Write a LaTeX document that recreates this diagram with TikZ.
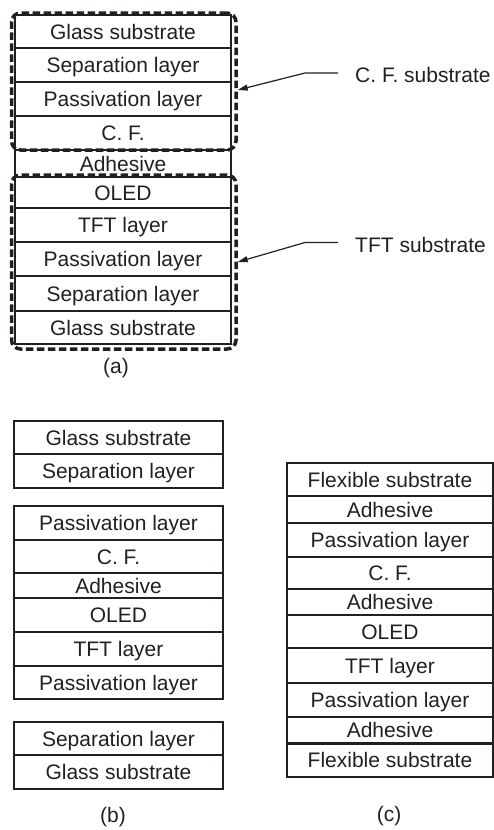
\documentclass[tikz,border=0pt]{standalone}
\usepackage{fontspec}
\setmainfont{Liberation Sans}
\usetikzlibrary{arrows.meta}
\definecolor{ink}{RGB}{35,31,32}
\begin{document}
\begin{tikzpicture}[x=1pt,y=-1pt,
  layer/.style={draw=ink,line width=1.2pt,inner sep=0pt,text=ink,
    text height=15pt,text depth=0pt,font=\fontsize{21}{25}\selectfont},
  colA/.style={layer,minimum width=216pt},
  colB/.style={layer,minimum width=209pt},
  colC/.style={layer,minimum width=206pt},
  groupbox/.style={draw=ink,line width=3.5pt,dash pattern=on 7.5pt off 3.5pt,
    rounded corners=9pt,inner sep=0pt},
  lbl/.style={inner sep=0pt,text=ink,text height=15pt,text depth=0pt,
    font=\fontsize{21}{25}\selectfont},
  pointer/.style={draw=ink,line width=1.2pt,-{Triangle[length=10pt,width=6pt]}}]
\useasboundingbox (0,0) rectangle (494,830);
% ---------- (a)
\node[colA,minimum height=33pt] (a1) at (123,31.5) {Glass substrate};
\node[colA,minimum height=34pt] (a2) at (123,65) {Separation layer};
\node[colA,minimum height=34pt] (a3) at (123,99) {Passivation layer};
\node[colA,minimum height=34pt] (a4) at (123,133) {C. F.};
\node[colA,minimum height=27pt] (a5) at (123,163.5) {Adhesive};
\node[colA,minimum height=31pt] (a6) at (123,192.5) {OLED};
\node[colA,minimum height=34pt] (a7) at (123,225) {TFT layer};
\node[colA,minimum height=34pt] (a8) at (123,259) {Passivation layer};
\node[colA,minimum height=35pt] (a9) at (123,293.5) {Separation layer};
\node[colA,minimum height=33pt] (a10) at (123,327.5) {Glass substrate};
\node[groupbox,minimum width=224.5pt,minimum height=137pt] (cfg) at (123.75,81.5) {};
\node[groupbox,minimum width=224.5pt,minimum height=174pt] (tftg) at (123.75,262) {};
\node[lbl,anchor=west] (cfl) at (355,75) {C. F. substrate};
\node[lbl,anchor=west] (tftl) at (355,244.5) {TFT substrate};
\draw[pointer] ([xshift=-17pt,yshift=2pt]cfl.west) -- ++(-33,0) -- ([yshift=-8.5pt]cfg.east);
\draw[pointer] ([xshift=-17pt,yshift=2pt]tftl.west) -- ++(-33,0) -- ([yshift=0pt]tftg.east);
\node[lbl] (capa) at (116,365.5) {(a)};
% ---------- (b)
\node[colB,minimum height=33pt] (b1) at (118.5,437.5) {Glass substrate};
\node[colB,minimum height=34pt] (b2) at (118.5,471) {Separation layer};
\node[colB,minimum height=34pt] (b3) at (118.5,523) {Passivation layer};
\node[colB,minimum height=33pt] (b4) at (118.5,556.5) {C. F.};
\node[colB,minimum height=25pt] (b5) at (118.5,585.5) {Adhesive};
\node[colB,minimum height=34pt] (b6) at (118.5,615) {OLED};
\node[colB,minimum height=34pt] (b7) at (118.5,649) {TFT layer};
\node[colB,minimum height=33pt] (b8) at (118.5,682.5) {Passivation layer};
\node[colB,minimum height=33pt] (b9) at (118.5,738.5) {Separation layer};
\node[colB,minimum height=34pt] (b10) at (118.5,772) {Glass substrate};
\node[lbl] (capb) at (113,815) {(b)};
% ---------- (c)
\node[colC,minimum height=33pt] (c1) at (390,479.5) {Flexible substrate};
\node[colC,minimum height=27pt] (c2) at (390,509.5) {Adhesive};
\node[colC,minimum height=34pt] (c3) at (390,540) {Passivation layer};
\node[colC,minimum height=32pt] (c4) at (390,573) {C. F.};
\node[colC,minimum height=26pt] (c5) at (390,602) {Adhesive};
\node[colC,minimum height=33pt] (c6) at (390,631.5) {OLED};
\node[colC,minimum height=35pt] (c7) at (390,665.5) {TFT layer};
\node[colC,minimum height=34pt] (c8) at (390,700) {Passivation layer};
\node[colC,minimum height=26pt] (c9) at (390,730) {Adhesive};
\node[colC,minimum height=34pt] (c10) at (390,760) {Flexible substrate};
\draw[draw=ink,line width=2.2pt] (c9.south west) -- (c9.south east);
\node[lbl] (capc) at (389,814) {(c)};
\end{tikzpicture}
\end{document}
